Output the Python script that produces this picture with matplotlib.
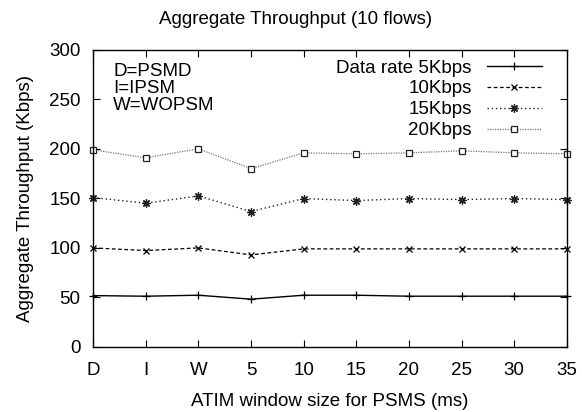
import matplotlib
matplotlib.use("Agg")
import matplotlib.pyplot as plt

categories = ["D", "I", "W", "5", "10", "15", "20", "25", "30", "35"]
labels = ["Data rate 5Kbps", "10Kbps", "15Kbps", "20Kbps"]
rate5 = [51.8, 51.2, 52.2, 48.2, 52.2, 52.2, 51.2, 51.2, 51.2, 51.2]
rate10 = [100, 97.3, 100, 92.9, 99, 99, 99, 99, 99, 99]
rate15 = [150.8, 145.1, 152.5, 136.7, 149.8, 147.8, 149.8, 148.8, 149.8, 148.8]
rate20 = [199, 191, 200, 180, 196, 195, 196, 198, 196, 195]
yticks = [0, 50, 100, 150, 200, 250, 300]

plt.rcParams['font.family'] = ['Liberation Sans', 'DejaVu Sans']
FS = 13.5

fig = plt.figure(figsize=(5.82, 4.12), dpi=100)
ax = fig.add_axes([0.160, 0.158, 0.814, 0.721])
x = list(range(len(categories)))

ax.plot(x, rate5, color='black', linestyle='-', linewidth=1.0, marker='+', markersize=6, markeredgewidth=0.9, label=labels[0], clip_on=False)
ax.plot(x, rate10, color='black', linestyle=(0, (3, 2)), linewidth=0.9, marker='x', markersize=5, markeredgewidth=0.9, label=labels[1], clip_on=False)
ax.plot(x, rate15, color='#222222', linestyle=(0, (1, 2)), linewidth=1.0, marker=(8, 2, 0), markersize=6, markeredgewidth=0.9, label=labels[2], clip_on=False)
ax.plot(x, rate20, color='#777777', linestyle=(0, (1, 1)), linewidth=0.9, marker='s', markersize=5, markerfacecolor='white', markeredgecolor='#222222', markeredgewidth=0.9, label=labels[3], clip_on=False)

ax.set_xlim(0, len(categories) - 1)
ax.set_ylim(0, 300)
ax.set_xticks(x)
ax.set_xticklabels(categories, fontsize=FS)
ax.set_yticks(yticks)
ax.set_yticklabels([str(v) for v in yticks], fontsize=FS)
ax.tick_params(direction='in', length=5, width=0.8, top=True, right=True, color='black')
ax.tick_params(axis='x', pad=11)
ax.tick_params(axis='y', pad=9)
for s in ax.spines.values():
    s.set_linewidth(1.0)

ax.set_xlabel("ATIM window size for PSMS (ms)", fontsize=FS, labelpad=10)
ax.set_ylabel("Aggregate Throughput (Kbps)", fontsize=FS, labelpad=11)
fig.text(296/582, 1 - 20/412, "Aggregate Throughput (10 flows)", fontsize=FS, ha='center', va='center')

ax.text(0.042, 0.955, "D=PSMD\nI=IPSM\nW=WOPSM", transform=ax.transAxes, fontsize=FS, ha='left', va='top', linespacing=1.0)

leg = ax.legend(loc='upper right', bbox_to_anchor=(0.975, 1.012), frameon=False, markerfirst=False,
                fontsize=FS, handlelength=2.95, handletextpad=0.8, labelspacing=0.2, borderpad=0.2)

fig.savefig("out.png", dpi=100)
